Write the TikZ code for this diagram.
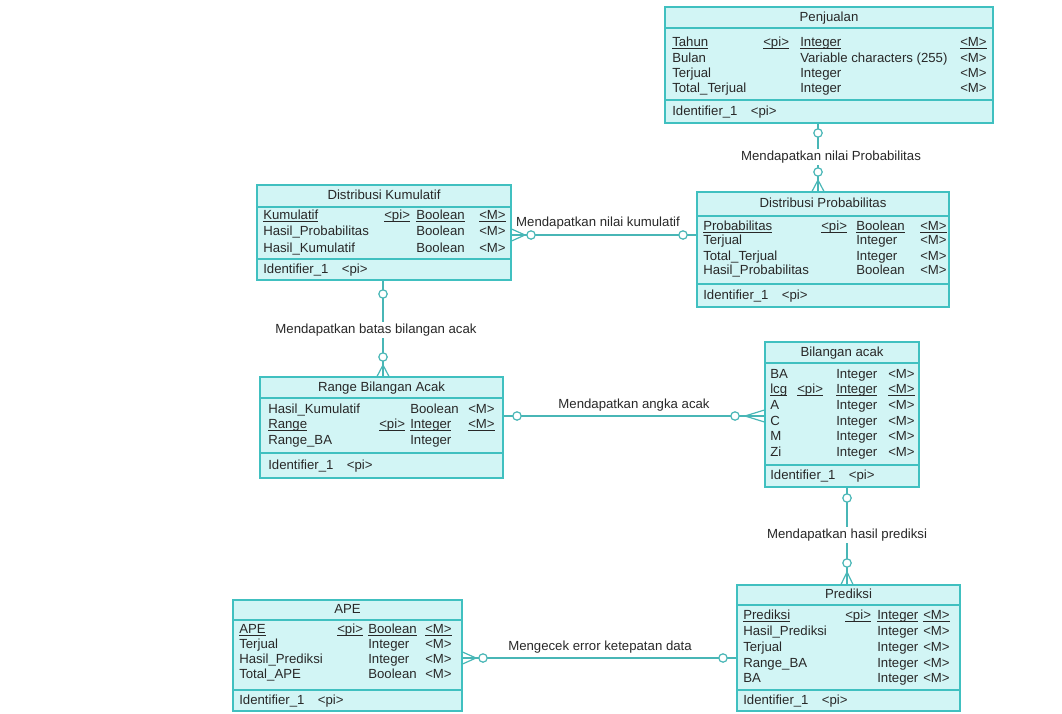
\documentclass[tikz,border=0pt]{standalone}
\usepackage{fontspec}
\setmainfont{Liberation Sans}
\usetikzlibrary{fit}
\definecolor{entfill}{RGB}{210,245,245}
\definecolor{entline}{RGB}{64,192,192}
\definecolor{relline}{RGB}{72,182,182}
\definecolor{txtc}{RGB}{40,40,40}
\newcommand\ulx[1]{\setbox0\hbox{#1}\rlap{\rule[-1.6pt]{\wd0}{0.5pt}}\box0}
\newcommand\setcols[4]{\def\colA{#1}\def\colB{#2}\def\colC{#3}\def\colD{#4}}
\newcommand\erow[7]{%
  \node[tx] (#1n#2) at (\colA,#3) {#4};
  \if\relax\detokenize{#5}\relax\else\node[tx] (#1p#2) at (\colB,#3) {#5};\fi
  \if\relax\detokenize{#6}\relax\else\node[tx] (#1y#2) at (\colC,#3) {#6};\fi
  \if\relax\detokenize{#7}\relax\else\node[tx] (#1m#2) at (\colD,#3) {#7};\fi}
\newcommand\entity[8]{%
  \node[ent, fit={(#2,#3) (#4,#5)}] (#1) {};
  \draw[div] (#2,#6) -- (#4,#6);
  \draw[div] (#2,#7) -- (#4,#7);
  \node[ttl] (#1t) at ({(#2+#4)/2},{(#3+#6)/2}) {#8};}
\newcommand\ident[2]{\node[tx] (#1id) at (\colA,#2) {Identifier\_1\hspace{10pt}<pi>};}
\begin{document}
\begin{tikzpicture}[x=0.75pt,y=-0.75pt,
  ent/.style={draw=entline, line width=0.8pt, fill=entfill, inner sep=0pt},
  div/.style={draw=entline, line width=0.8pt},
  tx/.style={anchor=mid west, inner sep=0pt, text=txtc, font=\fontsize{9.9}{11}\selectfont},
  ttl/.style={anchor=mid, inner sep=0pt, text=txtc, font=\fontsize{9.9}{11}\selectfont},
  lbl/.style={anchor=mid, inner sep=1.5pt, text=txtc, font=\fontsize{9.9}{11}\selectfont},
  rel/.style={draw=relline, line width=0.9pt},
  oc/.style={circle, draw=relline, fill=white, line width=0.9pt, minimum size=6.3pt, inner sep=0pt}]
\useasboundingbox (0,0) rectangle (1062,713);

% ---------- entities ----------
\entity{pen}{665}{7}{993}{123}{28}{100}{Penjualan}
\setcols{672}{763}{800}{960}
\erow{pen}{1}{43}{\ulx{Tahun}}{\ulx{<pi>}}{\ulx{Integer}}{\ulx{<M>}}
\erow{pen}{2}{59}{Bulan}{}{Variable characters (255)}{<M>}
\erow{pen}{3}{74}{Terjual}{}{Integer}{<M>}
\erow{pen}{4}{89}{Total\_Terjual}{}{Integer}{<M>}
\ident{pen}{112}

\entity{dk}{257}{185}{511}{280}{207}{259}{Distribusi Kumulatif}
\setcols{263}{384}{416}{479}
\erow{dk}{1}{216}{\ulx{Kumulatif}}{\ulx{<pi>}}{\ulx{Boolean}}{\ulx{<M>}}
\erow{dk}{2}{232}{Hasil\_Probabilitas}{}{Boolean}{<M>}
\erow{dk}{3}{249}{Hasil\_Kumulatif}{}{Boolean}{<M>}
\ident{dk}{270}

\entity{dp}{697}{192}{949}{307}{216}{284}{Distribusi Probabilitas}
\setcols{703}{821}{856}{920}
\erow{dp}{1}{227}{\ulx{Probabilitas}}{\ulx{<pi>}}{\ulx{Boolean}}{\ulx{<M>}}
\erow{dp}{2}{241}{Terjual}{}{Integer}{<M>}
\erow{dp}{3}{257}{Total\_Terjual}{}{Integer}{<M>}
\erow{dp}{4}{271}{Hasil\_Probabilitas}{}{Boolean}{<M>}
\ident{dp}{296}

\entity{rba}{260}{377}{503}{478}{398}{453}{Range Bilangan Acak}
\setcols{268}{379}{410}{468}
\erow{rba}{1}{410}{Hasil\_Kumulatif}{}{Boolean}{<M>}
\erow{rba}{2}{425}{\ulx{Range}}{\ulx{<pi>}}{\ulx{Integer}}{\ulx{<M>}}
\erow{rba}{3}{441}{Range\_BA}{}{Integer}{}
\ident{rba}{466}

\entity{ba}{765}{342}{919}{487}{363}{465}{Bilangan acak}
\setcols{770}{797}{836}{888}
\erow{ba}{1}{375}{BA}{}{Integer}{<M>}
\erow{ba}{2}{390}{\ulx{lcg}}{\ulx{<pi>}}{\ulx{Integer}}{\ulx{<M>}}
\erow{ba}{3}{406}{A}{}{Integer}{<M>}
\erow{ba}{4}{422}{C}{}{Integer}{<M>}
\erow{ba}{5}{437}{M}{}{Integer}{<M>}
\erow{ba}{6}{453}{Zi}{}{Integer}{<M>}
\ident{ba}{476}

\entity{ape}{233}{600}{462}{711}{620}{690}{APE}
\setcols{239}{337}{368}{425}
\erow{ape}{1}{630}{\ulx{APE}}{\ulx{<pi>}}{\ulx{Boolean}}{\ulx{<M>}}
\erow{ape}{2}{645}{Terjual}{}{Integer}{<M>}
\erow{ape}{3}{660}{Hasil\_Prediksi}{}{Integer}{<M>}
\erow{ape}{4}{675}{Total\_APE}{}{Boolean}{<M>}
\ident{ape}{701}

\entity{pred}{737}{585}{960}{711}{605}{690}{Prediksi}
\setcols{743}{845}{877}{923}
\erow{pred}{1}{616}{\ulx{Prediksi}}{\ulx{<pi>}}{\ulx{Integer}}{\ulx{<M>}}
\erow{pred}{2}{632}{Hasil\_Prediksi}{}{Integer}{<M>}
\erow{pred}{3}{648}{Terjual}{}{Integer}{<M>}
\erow{pred}{4}{664}{Range\_BA}{}{Integer}{<M>}
\erow{pred}{5}{679}{BA}{}{Integer}{<M>}
\ident{pred}{701}

% ---------- connectors ----------
% Penjualan - Distribusi Probabilitas
\draw[rel] (818,0 |- pen.south) -- (818,0 |- dp.north);
\draw[rel] (812,0 |- dp.north) -- (818,180) -- (824,0 |- dp.north);
% Distribusi Kumulatif - Distribusi Probabilitas
\draw[rel] (dk.east |- 0,235) -- (dp.west |- 0,235);
\draw[rel] (dk.east |- 0,229) -- (525,235) -- (dk.east |- 0,241);
% Distribusi Kumulatif - Range Bilangan Acak
\draw[rel] (383,0 |- dk.south) -- (383,0 |- rba.north);
\draw[rel] (377,0 |- rba.north) -- (383,365) -- (389,0 |- rba.north);
% Range Bilangan Acak - Bilangan acak
\draw[rel] (rba.east |- 0,416) -- (ba.west |- 0,416);
\draw[rel] (ba.west |- 0,410) -- (745,416) -- (ba.west |- 0,422);
% Bilangan acak - Prediksi
\draw[rel] (847,0 |- ba.south) -- (847,0 |- pred.north);
\draw[rel] (841,0 |- pred.north) -- (847,572) -- (853,0 |- pred.north);
% APE - Prediksi
\draw[rel] (ape.east |- 0,658) -- (pred.west |- 0,658);
\draw[rel] (ape.east |- 0,652) -- (476,658) -- (ape.east |- 0,664);

% ---------- cardinality circles and labels ----------
\node[oc] (c1a) at (818,133) {};
\node[oc] (c1b) at (818,172) {};
\node[lbl, fill=white] (l1) at (831,157) {Mendapatkan nilai Probabilitas};
\node[oc] (c2a) at (531,235) {};
\node[oc] (c2b) at (683,235) {};
\node[lbl] (l2) at (598,223) {Mendapatkan nilai kumulatif};
\node[oc] (c3a) at (383,294) {};
\node[oc] (c3b) at (383,357) {};
\node[lbl, fill=white] (l3) at (376,330) {Mendapatkan batas bilangan acak};
\node[oc] (c4a) at (517,416) {};
\node[oc] (c4b) at (735,416) {};
\node[lbl] (l4) at (634,405) {Mendapatkan angka acak};
\node[oc] (c5a) at (847,498) {};
\node[oc] (c5b) at (847,563) {};
\node[lbl, fill=white] (l5) at (847,535) {Mendapatkan hasil prediksi};
\node[oc] (c6a) at (483,658) {};
\node[oc] (c6b) at (723,658) {};
\node[lbl] (l6) at (600,647) {Mengecek error ketepatan data};
\end{tikzpicture}
\end{document}
